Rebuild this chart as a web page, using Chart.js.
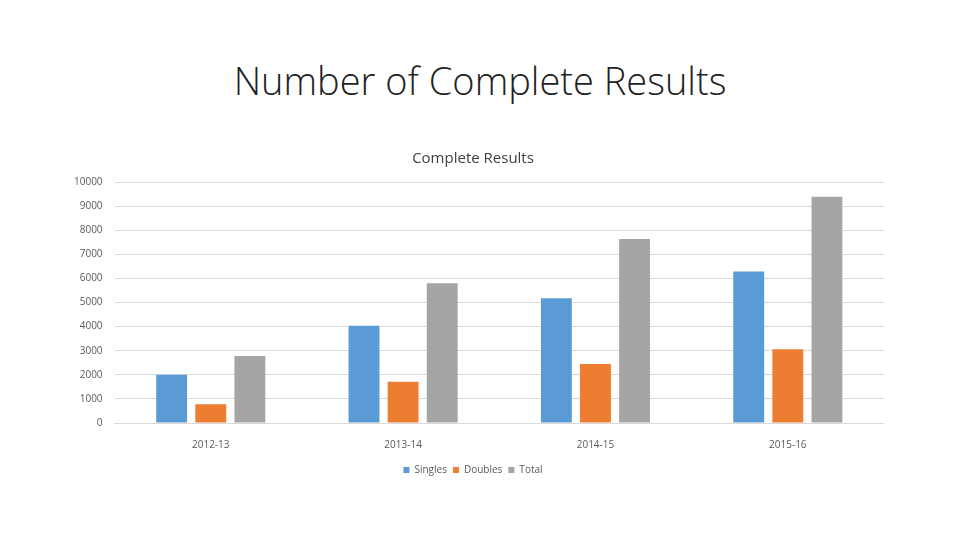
<!DOCTYPE html>
<html>
<head>
<meta charset="utf-8">
<script src="https://cdn.jsdelivr.net/npm/chart.js@4/dist/chart.umd.min.js"></script>
<style>
  body { margin: 0; background: #fff; width: 960px; height: 540px; overflow: hidden; font-family: "Open Sans", sans-serif; }
  h1 { position: absolute; top: 54px; left: 0; width: 960px; margin: 0; text-align: center; font-weight: 300; font-size: 38px; color: #222; font-family: "Open Sans", sans-serif; }
  #wrap { position: absolute; left: 62px; top: 150px; width: 822px; height: 335px; }
</style>
</head>
<body>
<h1>Number of Complete Results</h1>
<div id="wrap"><canvas id="c"></canvas></div>
<script>
const seasons = ['2012-13', '2013-14', '2014-15', '2015-16'];
const singles = [2000, 4040, 5180, 6290];
const doubles = [775, 1715, 2450, 3060];
const totals = [2775, 5800, 7630, 9390];

new Chart(document.getElementById('c'), {
  type: 'bar',
  data: {
    labels: seasons,
    datasets: [
      { label: 'Singles', data: singles, backgroundColor: '#5b9bd5' },
      { label: 'Doubles', data: doubles, backgroundColor: '#ed7d31' },
      { label: 'Total', data: totals, backgroundColor: '#a5a5a5' }
    ]
  },
  options: {
    responsive: true,
    maintainAspectRatio: false,
    animation: false,
    datasets: { bar: { categoryPercentage: 0.61, barPercentage: 0.79 } },
    plugins: {
      title: { display: true, text: 'Complete Results', color: '#404040', font: { family: 'Open Sans', size: 15, weight: 'normal' }, padding: { top: 0, bottom: 14 } },
      legend: {
        position: 'bottom',
        labels: { boxWidth: 6, boxHeight: 6, color: '#595959', font: { family: 'Open Sans', size: 10 }, padding: 6 }
      }
    },
    scales: {
      x: {
        grid: { display: false },
        border: { color: '#d9d9d9' },
        ticks: { color: '#595959', font: { family: 'Open Sans', size: 10 }, padding: 8 }
      },
      y: {
        min: 0, max: 10000,
        ticks: { stepSize: 1000, color: '#595959', font: { family: 'Open Sans', size: 10 }, padding: 12, callback: v => String(v) },
        grid: { color: '#d9d9d9', drawTicks: false },
        border: { display: false }
      }
    }
  }
});
</script>
</body>
</html>
